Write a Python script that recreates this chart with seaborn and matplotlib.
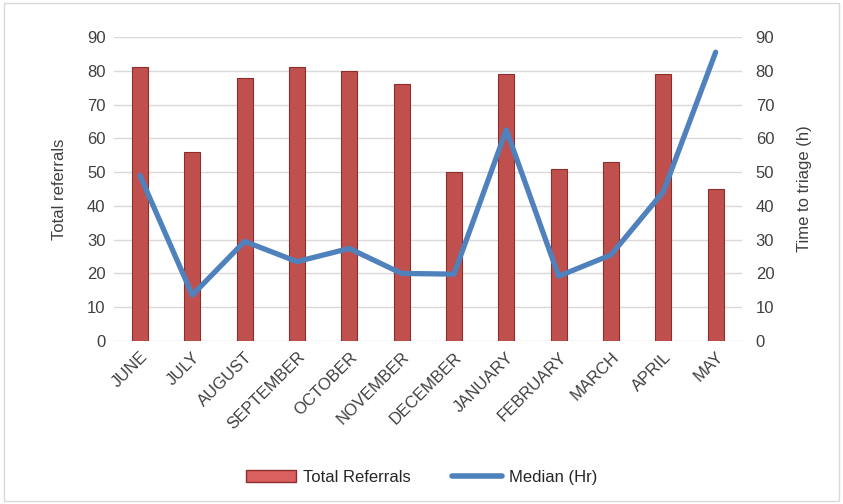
import pandas as pd
import matplotlib.pyplot as plt
import seaborn as sns
from matplotlib.lines import Line2D
from matplotlib.patches import Patch

months = ['JUNE', 'JULY', 'AUGUST', 'SEPTEMBER', 'OCTOBER', 'NOVEMBER',
          'DECEMBER', 'JANUARY', 'FEBRUARY', 'MARCH', 'APRIL', 'MAY']
total_referrals = [81, 56, 78, 81, 80, 76, 50, 79, 51, 53, 79, 45]
median_hr = [49, 13.6, 29.5, 23.5, 27.4, 20, 19.8, 62.5, 19.2, 25.5, 44.2, 85.5]

df = pd.DataFrame({'month': months, 'referrals': total_referrals, 'median': median_hr})

sns.set_style('white')
plt.rcParams['font.family'] = ['Liberation Sans', 'DejaVu Sans']

fig = plt.figure(figsize=(8.43, 5.04), dpi=100)
ax = fig.add_axes([0.135, 0.3234, 0.745, 0.6032])

bar_col = '#C0504D'
line_col = '#4F81BD'

sns.barplot(data=df, x='month', y='referrals', color=bar_col, width=0.31,
            edgecolor='#8B2E2C', linewidth=0.8, saturation=1, ax=ax, zorder=3)
ax.set_ylim(0, 90)
ax.set_xlim(-0.5, 11.5)
ax.set_yticks(range(0, 91, 10))
ax.yaxis.grid(True, color='#D9D9D9', linewidth=1, zorder=0)
ax.set_axisbelow(True)
ax.set_xlabel('')
ax.set_ylabel('Total referrals', fontsize=12, color='#404040', labelpad=14)
for s in ax.spines.values():
    s.set_visible(False)
ax.tick_params(axis='both', length=0, labelsize=12, colors='#404040', pad=6)
plt.setp(ax.get_xticklabels(), rotation=45, ha='right', rotation_mode='anchor')

ax2 = ax.twinx()
sns.lineplot(x=list(range(len(months))), y=median_hr, color=line_col, linewidth=3.8,
             ax=ax2, zorder=4)
ax2.set_ylim(0, 90)
ax2.set_yticks(range(0, 91, 10))
ax2.set_ylabel('Time to triage (h)', fontsize=12, color='#404040', labelpad=16)
for s in ax2.spines.values():
    s.set_visible(False)
ax2.tick_params(axis='y', length=0, labelsize=12, colors='#404040', pad=10)

handles = [Patch(facecolor='#D9605F', edgecolor='#8B2E2C', label='Total Referrals'),
           Line2D([0], [0], color=line_col, linewidth=4, label='Median (Hr)')]
fig.legend(handles=handles, loc='center', bbox_to_anchor=(0.5, 0.053), ncol=2,
           frameon=False, fontsize=12, handlelength=3, handletextpad=0.4,
           columnspacing=2.5)

border = plt.Rectangle((0.005, 0.005), 0.99, 0.99, transform=fig.transFigure,
                       fill=False, edgecolor='#D9D9D9', linewidth=1)
fig.patches.append(border)

fig.savefig('out.png', dpi=100)
